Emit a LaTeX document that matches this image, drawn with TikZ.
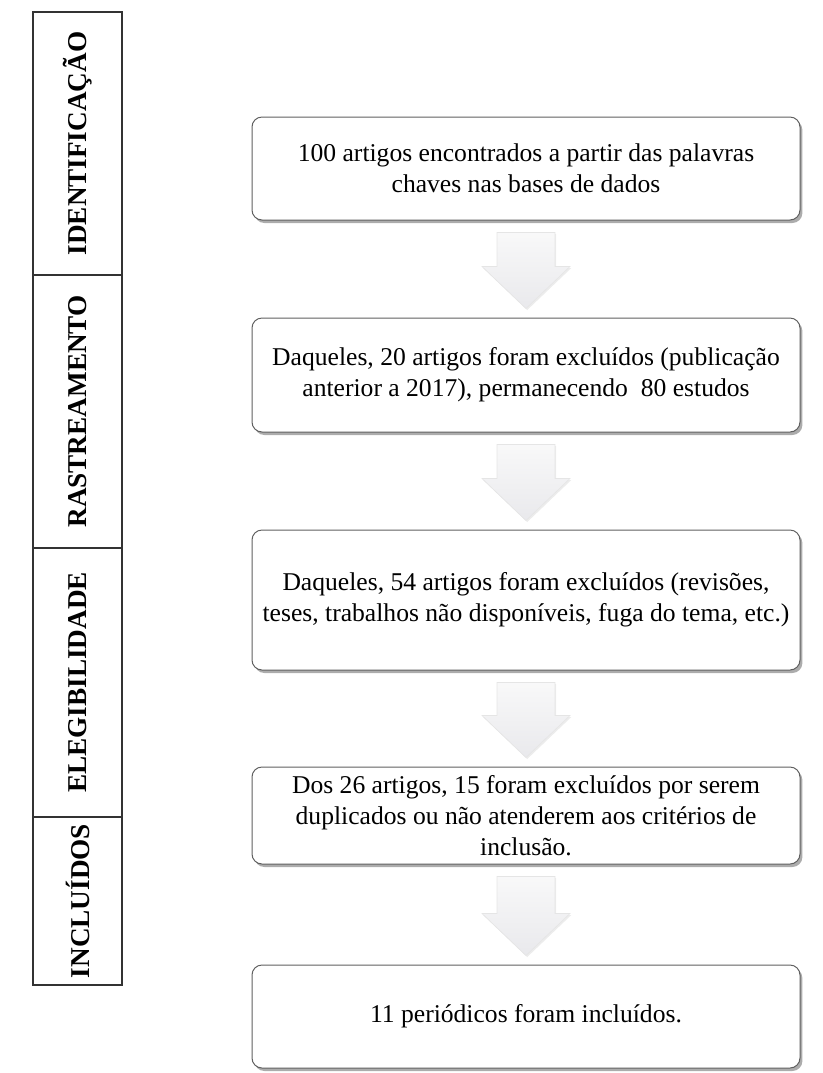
\documentclass[tikz,border=0pt]{standalone}
\usepackage{fontspec}
\setmainfont{Liberation Serif}
\usetikzlibrary{positioning, calc, shadows}

% block arrow from the bottom of one box to the top of the next
\newcommand{\flowarrow}[2]{%
  \path[flowarrowfill]
    ($(#1.south)+(-29,12)$) -- ($(#1.south)+(29,12)$) --
    ($(#2.north)+(29,-51)$) -- ($(#2.north)+(44,-51)$) --
    ($(#2.north)+(0,-9)$) --
    ($(#2.north)+(-44,-51)$) -- ($(#2.north)+(-29,-51)$) -- cycle;
}

\begin{document}
\begin{tikzpicture}[
  x=0.5pt, y=-0.5pt,
  % Node Styles
  stagebox/.style={rectangle, draw=black!80, line width=0.6pt, rotate=90, minimum height=44.5pt, inner sep=0pt, font=\fontsize{13.6}{16}\selectfont\bfseries},
  stepbox/.style={rectangle, rounded corners=5pt, draw=gray!75!black, line width=0.5pt, fill=white, minimum width=274pt, align=center, inner sep=2pt, font=\fontsize{12.8}{15.5}\selectfont, drop shadow={shadow xshift=1.2pt, shadow yshift=-1.5pt, opacity=0.5, fill=gray!70!black}},
  % Arrow Styles
  flowarrowfill/.style={top color=blue!3!gray!5, bottom color=blue!8!gray!16, draw=gray!20, line width=0.3pt, drop shadow={shadow xshift=0.6pt, shadow yshift=-0.8pt, opacity=0.15}}
]
\useasboundingbox (0,0) rectangle (823,1073);

% Stages
\node[stagebox, minimum width=131.5pt] (sIdent) at (77.5,143.5) {IDENTIFICAÇÃO};
\node[stagebox, minimum width=136.5pt] (sRastr) at (77.5,411.5) {RASTREAMENTO};
\node[stagebox, minimum width=134.5pt] (sEleg) at (77.5,682.5) {ELEGIBILIDADE};
\node[stagebox, minimum width=84pt] (sIncl) at (77.5,901) {INCLUÍDOS};

% Steps
\node[stepbox, minimum height=51.5pt] (found) at (526,168.5) {100 artigos encontrados a partir das palavras\\chaves nas bases de dados};
\node[stepbox, minimum height=57pt] (screen) at (526,375) {Daqueles, 20 artigos foram excluídos (publicação\\anterior a 2017), permanecendo\ \ 80 estudos};
\node[stepbox, minimum height=70pt] (elig) at (526,600) {Daqueles, 54 artigos foram excluídos (revisões,\\teses, trabalhos não disponíveis, fuga do tema, etc.)};
\node[stepbox, minimum height=48.5pt] (dupl) at (526,815.5) {Dos 26 artigos, 15 foram excluídos por serem\\duplicados ou não atenderem aos critérios de\\inclusão.};
\node[stepbox, minimum height=51.5pt] (incl) at (526,1016.5) {11 periódicos foram incluídos.};

% Arrows
\flowarrow{found}{screen}
\flowarrow{screen}{elig}
\flowarrow{elig}{dupl}
\flowarrow{dupl}{incl}

\end{tikzpicture}
\end{document}
